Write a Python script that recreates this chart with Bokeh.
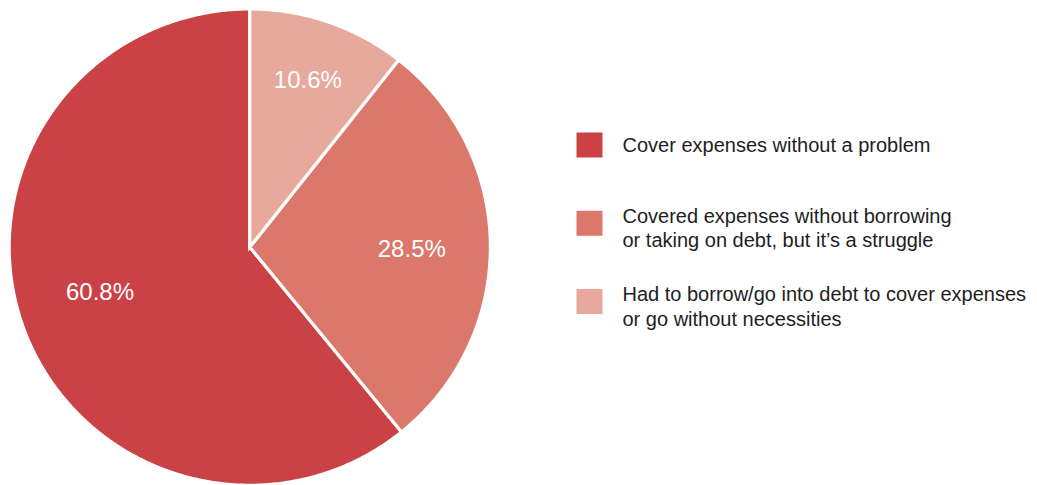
import math
from bokeh.plotting import figure
from bokeh.models import Range1d, ColumnDataSource
from bokeh.core.properties import value
from bokeh.embed import file_html
from bokeh.resources import INLINE

# ---- data ----
categories = [
    "Cover expenses without a problem",
    "Covered expenses without borrowing\nor taking on debt, but it\u2019s a struggle",
    "Had to borrow/go into debt to cover expenses\nor go without necessities",
]
shares = [60.8, 28.5, 10.6]
labels = ["60.8%", "28.5%", "10.6%"]
colors = ["#CB4246", "#DC776C", "#E8A99D"]

W, H = 1037, 485
FONT = "Liberation Sans"

p = figure(width=W, height=H, output_backend="svg", toolbar_location=None,
           x_range=Range1d(0, W), y_range=Range1d(0, H), min_border=0,
           tools="")
p.axis.visible = False
p.grid.visible = False
p.outline_line_color = None
p.background_fill_color = "white"
p.border_fill_color = "white"

# pie geometry (screen y measured downward, converted to y-up)
cx, cy = 249.3, H - 246.6
rx, ry = 239.0 + 1.6, 236.6 + 1.6
SEP = 3.2

order = list(reversed(range(len(shares))))  # smallest first, clockwise from 12 o'clock
total = sum(shares)
starts, ends, mids = {}, {}, {}
cum = 0.0
for i in order:
    a0 = math.pi / 2 - 2 * math.pi * cum / total
    cum += shares[i]
    a1 = math.pi / 2 - 2 * math.pi * cum / total
    starts[i], ends[i], mids[i] = a0, a1, (a0 + a1) / 2

xs, ys = [], []
for i in range(len(shares)):
    n = max(8, int(abs(ends[i] - starts[i]) * 120))
    px, py = [cx], [cy]
    for k in range(n + 1):
        a = starts[i] + (ends[i] - starts[i]) * k / n
        px.append(cx + rx * math.cos(a))
        py.append(cy + ry * math.sin(a))
    xs.append(px)
    ys.append(py)

p.patches(xs=xs, ys=ys, fill_color=colors, line_color="white",
          line_width=SEP, line_join="miter")

# value labels
label_r = [159, 162, 177.5]
label_dy = [9, -3, 0]
lx = [cx + label_r[i] * math.cos(mids[i]) for i in range(len(shares))]
ly = [cy + label_r[i] * math.sin(mids[i]) + label_dy[i] for i in range(len(shares))]
p.text(x=lx, y=ly, text=labels, text_color="white",
       text_font=value(FONT), text_font_size="24px",
       text_align="center", text_baseline="middle")

# legend
sq_x, sq_y0, sq_step, sq = 589, 144.5, 78.25, 25
lgx = [sq_x] * len(categories)
lgy = [H - (sq_y0 + i * sq_step) for i in range(len(categories))]
nlines = [c.count("\n") + 1 for c in categories]
p.rect(x=lgx, y=lgy, width=sq + 1, height=sq, fill_color=colors, line_color=None)
p.text(x=[622] * len(categories),
       y=[lgy[i] - 5 * (nlines[i] - 1) for i in range(len(categories))],
       text=categories, text_color="#1e1e1e", text_font=value(FONT),
       text_font_size="20px", text_align="left", text_baseline="middle",
       text_line_height=1.1)

open("out.html", "w").write(file_html(p, INLINE))
